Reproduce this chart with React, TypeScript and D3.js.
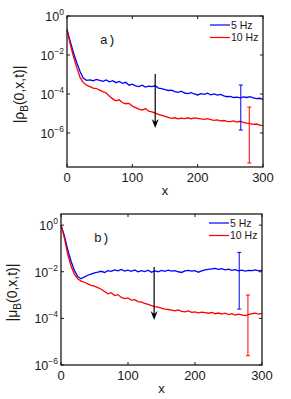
import React, { useEffect, useRef } from "react";
import * as d3 from "d3";

// x positions shared by all series
const xs = d3.range(0, 301, 5);

// log10 of |rho_B| (panel a)
const rho5 = [-0.7, -1.3, -1.9, -2.4, -2.85, -3.2, -3.3, -3.28, -3.32, -3.25, -3.3, -3.35, -3.28, -3.38, -3.32, -3.42, -3.36, -3.45, -3.4, -3.55, -3.5, -3.58, -3.62, -3.55, -3.65, -3.6, -3.62, -3.58, -3.7, -3.72, -3.78, -3.82, -3.8, -3.88, -3.92, -3.86, -3.95, -3.98, -3.93, -4.0, -4.05, -3.98, -4.02, -3.96, -4.04, -4.0, -4.06, -4.02, -4.1, -4.14, -4.12, -4.18, -4.16, -4.2, -4.15, -4.18, -4.14, -4.2, -4.24, -4.22, -4.28];
const rho10 = [-0.7, -1.45, -2.1, -2.65, -3.15, -3.42, -3.55, -3.62, -3.7, -3.72, -3.8, -3.88, -3.95, -4.12, -4.25, -4.35, -4.3, -4.45, -4.5, -4.48, -4.62, -4.7, -4.78, -4.82, -4.75, -4.88, -4.92, -4.98, -5.05, -5.1, -5.15, -5.2, -5.25, -5.22, -5.28, -5.24, -5.26, -5.22, -5.27, -5.23, -5.25, -5.28, -5.3, -5.26, -5.32, -5.35, -5.33, -5.38, -5.36, -5.4, -5.42, -5.38, -5.44, -5.4, -5.46, -5.5, -5.52, -5.56, -5.54, -5.6, -5.62];

// log10 of |mu_B| (panel b)
const mu5 = [0.0, -0.45, -1.05, -1.55, -1.95, -2.2, -2.3, -2.22, -2.15, -2.1, -2.05, -2.02, -1.98, -2.03, -1.95, -1.98, -1.92, -1.96, -1.9, -1.97, -1.93, -1.98, -1.92, -2.0, -1.95, -1.99, -1.93, -2.02, -1.96, -2.0, -1.94, -1.98, -1.93, -1.97, -1.95, -2.0, -2.03, -1.96, -1.94, -1.97, -1.95, -2.02, -1.96, -1.92, -1.9, -1.88, -1.86, -1.9, -1.87, -1.92, -1.89, -1.94, -1.91, -1.96, -1.93, -1.97, -1.94, -1.95, -1.92, -1.96, -1.94];
const mu10 = [0.0, -0.55, -1.25, -1.75, -2.1, -2.3, -2.4, -2.45, -2.52, -2.58, -2.62, -2.68, -2.75, -2.85, -2.95, -2.9, -3.02, -2.98, -3.1, -3.15, -3.12, -3.22, -3.2, -3.28, -3.3, -3.36, -3.4, -3.45, -3.5, -3.52, -3.56, -3.6, -3.62, -3.65, -3.68, -3.64, -3.7, -3.72, -3.68, -3.74, -3.72, -3.76, -3.73, -3.75, -3.78, -3.74, -3.8, -3.77, -3.82, -3.78, -3.84, -3.8, -3.86, -3.82, -3.85, -3.88, -3.84, -3.8, -3.78, -3.82, -3.79];

// error bars: [x, low exp, high exp]
const errA = [
  { x: 266, lo: -5.85, hi: -3.54, color: "blue" },
  { x: 279, lo: -7.54, hi: -4.67, color: "red" },
];
const errB = [
  { x: 266, lo: -3.6, hi: -1.17, color: "blue" },
  { x: 279, lo: -5.6, hi: -3.0, color: "red" },
];

const xTicks = [0, 100, 200, 300];
const legendLabels = ["5 Hz", "10 Hz"];
const colors = ["blue", "red"];

const panels = [
  {
    box: { left: 67, right: 263, top: 16, bottom: 167 },
    yDomain: [1.8e-8, 1],
    yTicks: [0, -2, -4, -6],
    series: [rho5, rho10],
    err: errA,
    arrow: { x: 135, y0: 74, y1: 128 },
    tag: "a)",
    sym: "\u03c1",
    labelX: 24,
  },
  {
    box: { left: 61, right: 262, top: 214, bottom: 365 },
    yDomain: [1e-6, 3],
    yTicks: [0, -2, -4, -6],
    series: [mu5, mu10],
    err: errB,
    arrow: { x: 139, y0: 267, y1: 320 },
    tag: "b)",
    sym: "\u03bc",
    labelX: 17,
  },
];

const FONT = "'Liberation Sans', Arial, sans-serif";

export default function App() {
  const ref = useRef<SVGSVGElement>(null);

  useEffect(() => {
    const svg = d3.select(ref.current);
    svg.selectAll("*").remove();

    panels.forEach((p) => {
      const { left, right, top, bottom } = p.box;
      const x = d3.scaleLinear().domain([0, 300]).range([left, right]);
      const y = d3.scaleLog().domain(p.yDomain).range([bottom, top]);
      const g = svg.append("g");

      // curves
      p.series.forEach((s, i) => {
        const line = d3
          .line<number>()
          .x((_, j) => x(xs[j]))
          .y((d) => y(Math.pow(10, d)));
        g.append("path")
          .attr("d", line(s))
          .attr("fill", "none")
          .attr("stroke", colors[i])
          .attr("stroke-width", 1.3);
      });

      // error bars
      p.err.forEach((e) => {
        const cx = x(e.x);
        const y0 = y(Math.pow(10, e.lo));
        const y1 = y(Math.pow(10, e.hi));
        g.append("line").attr("x1", cx).attr("x2", cx).attr("y1", y0).attr("y2", y1)
          .attr("stroke", e.color).attr("stroke-width", 1);
        [y0, y1].forEach((yy) =>
          g.append("line").attr("x1", cx - 2).attr("x2", cx + 2).attr("y1", yy).attr("y2", yy)
            .attr("stroke", e.color).attr("stroke-width", 1)
        );
      });

      // arrow
      const ax = x(p.arrow.x);
      g.append("line").attr("x1", ax).attr("x2", ax).attr("y1", p.arrow.y0).attr("y2", p.arrow.y1 - 6)
        .attr("stroke", "#000").attr("stroke-width", 1.2);
      g.append("path")
        .attr("d", `M${ax - 3.5},${p.arrow.y1 - 9} L${ax},${p.arrow.y1} L${ax + 3.5},${p.arrow.y1 - 9} L${ax},${p.arrow.y1 - 6} Z`)
        .attr("fill", "#000");

      // frame
      g.append("rect")
        .attr("x", left).attr("y", top).attr("width", right - left).attr("height", bottom - top)
        .attr("fill", "none").attr("stroke", "#1a1a1a").attr("stroke-width", 1.3);

      // x ticks
      xTicks.forEach((t) => {
        const tx = x(t);
        g.append("line").attr("x1", tx).attr("x2", tx).attr("y1", bottom).attr("y2", bottom - 3).attr("stroke", "#1a1a1a");
        g.append("line").attr("x1", tx).attr("x2", tx).attr("y1", top).attr("y2", top + 3).attr("stroke", "#1a1a1a");
        g.append("text").attr("x", tx).attr("y", bottom + 15).attr("text-anchor", "middle")
          .attr("font-family", FONT).attr("font-size", 13).attr("fill", "#1a1a1a").text(String(t));
      });

      // y ticks
      p.yTicks.forEach((e) => {
        const ty = y(Math.pow(10, e));
        g.append("line").attr("x1", left).attr("x2", left + 3).attr("y1", ty).attr("y2", ty).attr("stroke", "#1a1a1a");
        g.append("line").attr("x1", right).attr("x2", right - 3).attr("y1", ty).attr("y2", ty).attr("stroke", "#1a1a1a");
        const txt = g.append("text").attr("x", left - 3).attr("y", ty + 5).attr("text-anchor", "end")
          .attr("font-family", FONT).attr("font-size", 12.5).attr("fill", "#1a1a1a");
        txt.append("tspan").text("10");
        txt.append("tspan").attr("dy", -6).attr("font-size", 8.5)
          .text(e === 0 ? "0" : "\u2212" + Math.abs(e));
      });

      // axis labels
      g.append("text").attr("x", (left + right) / 2).attr("y", bottom + 28).attr("text-anchor", "middle")
        .attr("font-family", FONT).attr("font-size", 13).attr("fill", "#1a1a1a").text("x");
      const yl = g.append("text")
        .attr("transform", `translate(${p.labelX},${(top + bottom) / 2 + 3}) rotate(-90)`)
        .attr("text-anchor", "middle").attr("font-family", FONT).attr("font-size", 14).attr("fill", "#1a1a1a");
      yl.append("tspan").text("|" + p.sym);
      yl.append("tspan").attr("dy", 4).attr("font-size", 10).text("B");
      yl.append("tspan").attr("dy", -4).text("(0,x,t)|");

      // panel tag
      g.append("text").attr("x", left + 33).attr("y", top + 28)
        .attr("font-family", "'Liberation Mono', 'Courier New', monospace").attr("font-size", 13)
        .attr("fill", "#1a1a1a").text(p.tag);

      // legend
      legendLabels.forEach((lab, i) => {
        const ly = top + 9 + i * 12.5;
        g.append("line").attr("x1", right - 53).attr("x2", right - 33).attr("y1", ly).attr("y2", ly)
          .attr("stroke", colors[i]).attr("stroke-width", 1.2);
        g.append("text").attr("x", right - 32).attr("y", ly + 3.5).attr("font-family", FONT)
          .attr("font-size", 10.5).attr("fill", "#1a1a1a").text(lab);
      });
    });
  }, []);

  return (
    <svg
      ref={ref}
      width={291}
      height={399}
      style={{ position: "absolute", left: 0, top: 0, background: "#fff" }}
    />
  );
}
